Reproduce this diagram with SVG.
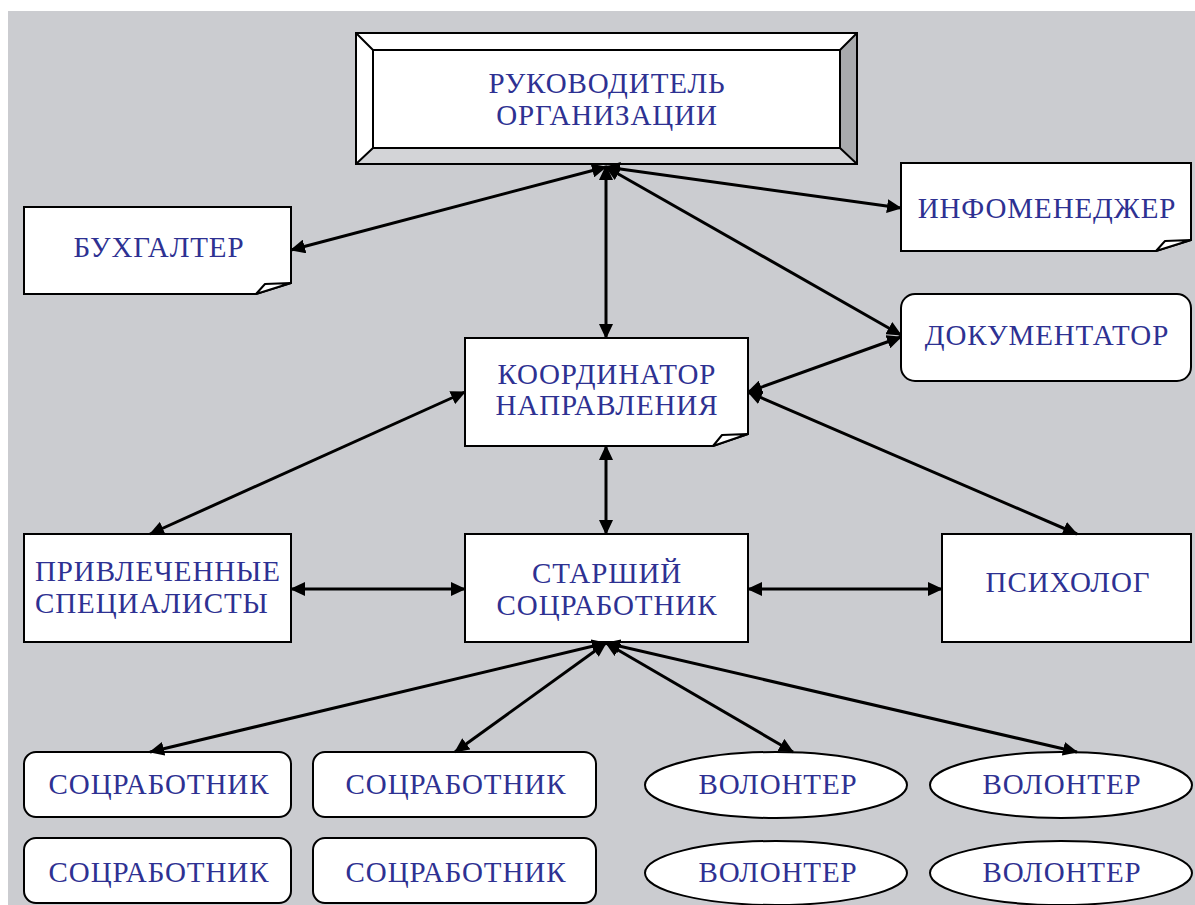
<svg xmlns="http://www.w3.org/2000/svg" width="1195" height="905" viewBox="0 0 1195 905">
<style>
.bg{fill:#cbccd0}
.box{fill:#fff;stroke:#000;stroke-width:2}
.fold{fill:#fff;stroke:#000;stroke-width:2;stroke-linejoin:round}
.t{font-family:"Liberation Serif","Times New Roman",serif;font-size:29px;letter-spacing:0.9px;fill:#2e3192;text-anchor:middle}
.tl{text-anchor:start}
.c{stroke:#000;stroke-width:3;fill:none;marker-start:url(#ah);marker-end:url(#ah)}
</style>
<defs>
<marker id="ah" markerUnits="userSpaceOnUse" markerWidth="16" markerHeight="14" refX="14" refY="7" orient="auto-start-reverse">
<path d="M0,0 L15,7 L0,14 z" fill="#000"/>
</marker>
</defs>
<rect class="bg" x="8" y="11" width="1187" height="894"/>

<g id="n-head">
<rect x="356" y="33" width="501" height="131" fill="#fff"/>
<polygon points="857,33 840,50 840,148 857,164" fill="#a8aaad"/>
<polygon points="356,164 373,148 840,148 857,164" fill="#d3d4d7"/>
<rect x="356" y="33" width="501" height="131" fill="none" stroke="#000" stroke-width="2"/>
<rect x="373" y="50" width="467" height="98" fill="#fff" stroke="#000" stroke-width="2"/>
<path d="M356,33 L373,50 M857,33 L840,50 M356,164 L373,148 M857,164 L840,148" stroke="#000" stroke-width="2"/>
<text class="t" x="607" y="93">РУКОВОДИТЕЛЬ</text>
<text class="t" x="607" y="125">ОРГАНИЗАЦИИ</text>
</g>

<g id="n-buh">
<path class="box" d="M24,207 H291 V283 L256,294 H24 Z"/>
<path class="fold" d="M256,294 L265,284 L291,283 Z"/>
<text class="t" x="159" y="257">БУХГАЛТЕР</text>
</g>

<g id="n-info">
<path class="box" d="M901,163 H1191 V240 L1156,251 H901 Z"/>
<path class="fold" d="M1156,251 L1165,241 L1191,240 Z"/>
<text class="t" x="1047" y="218">ИНФОМЕНЕДЖЕР</text>
</g>

<g id="n-doc">
<rect class="box" x="901" y="294" width="290" height="87" rx="14"/>
<text class="t" x="1047" y="345">ДОКУМЕНТАТОР</text>
</g>

<g id="n-coord">
<path class="box" d="M465,338 H748 V434 L713,446 H465 Z"/>
<path class="fold" d="M713,446 L722,435 L748,434 Z"/>
<text class="t" x="607" y="384">КООРДИНАТОР</text>
<text class="t" x="607" y="415">НАПРАВЛЕНИЯ</text>
</g>

<g id="n-spec">
<rect class="box" x="24" y="534" width="267" height="108"/>
<text class="t tl" x="35" y="581">ПРИВЛЕЧЕННЫЕ</text>
<text class="t tl" x="35" y="613">СПЕЦИАЛИСТЫ</text>
</g>

<g id="n-senior">
<rect class="box" x="465" y="534" width="283" height="108"/>
<text class="t" x="607" y="583">СТАРШИЙ</text>
<text class="t" x="607" y="615">СОЦРАБОТНИК</text>
</g>

<g id="n-psy">
<rect class="box" x="942" y="534" width="249" height="108"/>
<text class="t" x="1068" y="592">ПСИХОЛОГ</text>
</g>

<g id="n-sw1">
<rect class="box" x="24" y="752" width="267" height="65" rx="12"/>
<text class="t" x="159" y="794">СОЦРАБОТНИК</text>
</g>
<g id="n-sw2">
<rect class="box" x="313" y="752" width="283" height="65" rx="12"/>
<text class="t" x="456" y="794">СОЦРАБОТНИК</text>
</g>
<g id="n-sw3">
<rect class="box" x="24" y="838" width="267" height="65" rx="12"/>
<text class="t" x="159" y="882">СОЦРАБОТНИК</text>
</g>
<g id="n-sw4">
<rect class="box" x="313" y="838" width="283" height="65" rx="12"/>
<text class="t" x="456" y="882">СОЦРАБОТНИК</text>
</g>

<g id="n-vol1">
<ellipse class="box" cx="776" cy="785" rx="131" ry="33"/>
<text class="t" x="778" y="794">ВОЛОНТЕР</text>
</g>
<g id="n-vol2">
<ellipse class="box" cx="1061" cy="785" rx="131" ry="33"/>
<text class="t" x="1062" y="794">ВОЛОНТЕР</text>
</g>
<g id="n-vol3">
<ellipse class="box" cx="776" cy="873" rx="131" ry="32"/>
<text class="t" x="778" y="882">ВОЛОНТЕР</text>
</g>
<g id="n-vol4">
<ellipse class="box" cx="1061" cy="873" rx="131" ry="32"/>
<text class="t" x="1062" y="882">ВОЛОНТЕР</text>
</g>

<g id="connectors">
<line class="c" x1="606" y1="167" x2="291" y2="250"/>
<line class="c" x1="606" y1="167" x2="901" y2="208"/>
<line class="c" x1="606" y1="166" x2="606" y2="338"/>
<line class="c" x1="606" y1="167" x2="901" y2="335"/>
<line class="c" x1="901" y1="337" x2="748" y2="392"/>
<line class="c" x1="465" y1="392" x2="150" y2="534"/>
<line class="c" x1="748" y1="392" x2="1077" y2="534"/>
<line class="c" x1="606" y1="446" x2="606" y2="534"/>
<line class="c" x1="291" y1="589" x2="465" y2="589"/>
<line class="c" x1="748" y1="589" x2="942" y2="589"/>
<line class="c" x1="606" y1="643" x2="150" y2="752"/>
<line class="c" x1="606" y1="643" x2="455" y2="752"/>
<line class="c" x1="606" y1="643" x2="793" y2="752"/>
<line class="c" x1="606" y1="643" x2="1077" y2="752"/>
</g>
</svg>
